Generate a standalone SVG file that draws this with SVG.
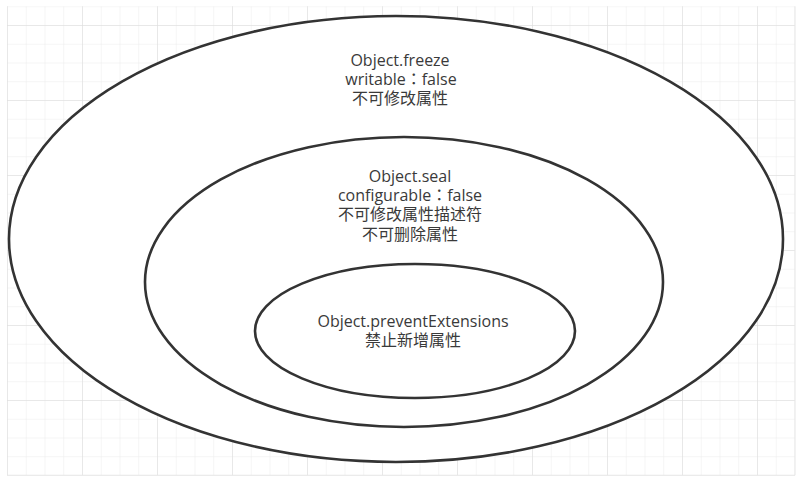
<svg xmlns="http://www.w3.org/2000/svg" width="812" height="480" viewBox="0 0 812 480">
<defs>
<pattern id="minor" x="7" y="6.25" width="18.75" height="18.75" patternUnits="userSpaceOnUse">
<path d="M0 0 H18.75 M0 0 V18.75" fill="none" stroke="#ececec" stroke-width="1"/>
</pattern>
<pattern id="major" x="7" y="25" width="75" height="75" patternUnits="userSpaceOnUse">
<path d="M0 0 H75 M0 0 V75" fill="none" stroke="#dcdcdc" stroke-width="1"/>
</pattern>
</defs>
<style>
.ring{fill:#fff;stroke:#333;stroke-width:2.6}
.t{font-family:"Open Sans","Noto Sans CJK SC",sans-serif;font-size:16px;fill:#3a3a3a;text-anchor:middle}
.c{font-family:"Noto Sans CJK JP",sans-serif}
</style>
<rect width="812" height="480" fill="#fff"/>
<rect x="7" y="6.25" width="788" height="469" fill="url(#minor)"/>
<rect x="7" y="6.25" width="788" height="469" fill="url(#major)"/>
<path d="M795 6.25 V475.25 M7 475.25 H795" stroke="#e6e6e6" fill="none"/>
<g id="freeze">
<ellipse class="ring" cx="396" cy="239" rx="387" ry="223"/>
<text class="t" x="400" y="66">Object.freeze</text>
<text class="t" x="401" y="85">writable<tspan class="c">：</tspan>false</text>
<text class="t" x="400" y="104">不可修改属性</text>
</g>
<g id="seal">
<ellipse class="ring" cx="404" cy="282" rx="259" ry="145"/>
<text class="t" x="410" y="182">Object.seal</text>
<text class="t" x="410" y="201">configurable<tspan class="c">：</tspan>false</text>
<text class="t" x="410" y="220">不可修改属性描述符</text>
<text class="t" x="410" y="240">不可删除属性</text>
</g>
<g id="preventExtensions">
<ellipse class="ring" cx="415" cy="331" rx="160" ry="67"/>
<text class="t" x="413" y="327">Object.preventExtensions</text>
<text class="t" x="413" y="346">禁止新增属性</text>
</g>
<g id="connectors"/>
</svg>
